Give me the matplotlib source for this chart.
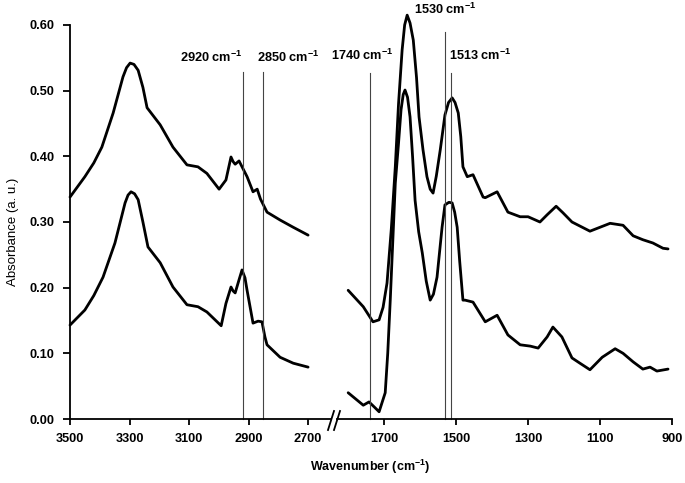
import numpy as np
import matplotlib
matplotlib.use("Agg")
import matplotlib.pyplot as plt
from matplotlib.lines import Line2D

plt.rcParams['font.family'] = ['Liberation Sans', 'DejaVu Sans']
plt.rcParams['mathtext.fontset'] = 'custom'
plt.rcParams['mathtext.rm'] = 'Liberation Sans'
plt.rcParams['mathtext.bf'] = 'Liberation Sans:bold'
plt.rcParams['mathtext.default'] = 'bf'

# high wavenumber region (cm-1)
wn_hi = [3500, 3450, 3420, 3393, 3355, 3322, 3310, 3298, 3285, 3271, 3255, 3241, 3197, 3154, 3107,
         3070, 3040, 2999, 2976, 2959, 2952, 2945, 2932, 2905, 2885, 2871, 2860, 2838, 2794, 2750, 2700]
upper_hi = [0.338, 0.369, 0.390, 0.414, 0.466, 0.521, 0.535, 0.542, 0.540, 0.531, 0.505, 0.474, 0.448,
            0.414, 0.387, 0.384, 0.374, 0.350, 0.364, 0.399, 0.392, 0.388, 0.393, 0.369, 0.346, 0.350,
            0.335, 0.315, 0.303, 0.292, 0.280]

wn_hi2 = [3500, 3450, 3420, 3389, 3349, 3315, 3305, 3295, 3283, 3271, 3255, 3238, 3197, 3154, 3107,
          3070, 3040, 2992, 2976, 2959, 2952, 2945, 2932, 2922, 2912, 2905, 2885, 2868, 2855, 2845,
          2838, 2794, 2750, 2700]
lower_hi = [0.143, 0.166, 0.188, 0.216, 0.268, 0.329, 0.341, 0.346, 0.343, 0.334, 0.300, 0.262, 0.238,
            0.201, 0.174, 0.171, 0.163, 0.142, 0.176, 0.201, 0.195, 0.192, 0.212, 0.227, 0.215, 0.196,
            0.146, 0.149, 0.148, 0.125, 0.113, 0.094, 0.085, 0.079]

# fingerprint region (cm-1)
wn_lo = [1800, 1758, 1731, 1714, 1703, 1692, 1680, 1669, 1660, 1650, 1643, 1636, 1628, 1619, 1610,
         1603, 1592, 1581, 1572, 1564, 1555, 1544, 1531, 1521, 1511, 1503, 1494, 1487, 1481, 1469,
         1453, 1425, 1419, 1386, 1356, 1322, 1300, 1267, 1247, 1222, 1203, 1178, 1128, 1100, 1072,
         1036, 1008, 981, 953, 925, 911]
upper_lo = [0.196, 0.171, 0.148, 0.151, 0.170, 0.207, 0.290, 0.384, 0.480, 0.562, 0.600, 0.615, 0.603,
            0.577, 0.520, 0.460, 0.410, 0.369, 0.350, 0.344, 0.370, 0.410, 0.463, 0.482, 0.489, 0.482,
            0.466, 0.430, 0.384, 0.369, 0.372, 0.338, 0.337, 0.346, 0.315, 0.308, 0.308, 0.300, 0.311,
            0.324, 0.314, 0.300, 0.286, 0.292, 0.298, 0.295, 0.279, 0.273, 0.268, 0.260, 0.259]

wn_lo2 = [1800, 1758, 1742, 1725, 1714, 1697, 1690, 1683, 1676, 1669, 1660, 1653, 1647, 1642, 1635,
          1628, 1621, 1614, 1604, 1594, 1583, 1572, 1563, 1553, 1539, 1531, 1520, 1511, 1504, 1497,
          1490, 1481, 1475, 1453, 1419, 1386, 1356, 1322, 1294, 1272, 1247, 1231, 1206, 1178, 1156,
          1128, 1094, 1058, 1036, 1008, 981, 961, 942, 911]
lower_lo = [0.040, 0.021, 0.026, 0.017, 0.011, 0.040, 0.100, 0.181, 0.270, 0.359, 0.420, 0.471, 0.494,
            0.501, 0.490, 0.460, 0.400, 0.333, 0.285, 0.253, 0.210, 0.181, 0.190, 0.216, 0.292, 0.326,
            0.330, 0.329, 0.315, 0.292, 0.240, 0.181, 0.181, 0.178, 0.148, 0.158, 0.128, 0.113, 0.111,
            0.108, 0.125, 0.140, 0.125, 0.093, 0.085, 0.075, 0.094, 0.107, 0.100, 0.087, 0.076, 0.079,
            0.073, 0.076]

# marker lines: position, top of line, label, label x, label y
marks_hi = [(2920, 0.528, '2920 cm$^{-1}$', 3026, 0.550),
            (2850, 0.528, '2850 cm$^{-1}$', 2767, 0.550)]
marks_lo = [(1740, 0.527, '1740 cm$^{-1}$', 1761, 0.554),
            (1530, 0.589, '1530 cm$^{-1}$', 1530, 0.623),
            (1513, 0.527, '1513 cm$^{-1}$', 1433, 0.554)]

yticks = [0.0, 0.1, 0.2, 0.3, 0.4, 0.5, 0.6]
xticks_hi = [3500, 3300, 3100, 2900, 2700]
xticks_lo = [1700, 1500, 1300, 1100, 900]

W, H = 685, 483
fig = plt.figure(figsize=(W / 100, H / 100), dpi=100)
ax1 = fig.add_axes([70 / W, 1 - 419 / H, (331 - 70) / W, (419 - 25) / H])
ax2 = fig.add_axes([337 / W, 1 - 419 / H, (672 - 337) / W, (419 - 25) / H])

style = dict(color='black', lw=2, solid_joinstyle='round', solid_capstyle='round', clip_on=False)
ax1.plot(wn_hi, upper_hi, **style)
ax1.plot(wn_hi2, lower_hi, **style)
ax2.plot(wn_lo, upper_lo, **style)
ax2.plot(wn_lo2, lower_lo, **style)

for ax, marks in [(ax1, marks_hi), (ax2, marks_lo)]:
    for x, top, lab, tx, ty in marks:
        ax.plot([x, x], [0, top], color='#444444', lw=0.8, clip_on=False)
        ax.text(tx, ty, lab, ha='center', va='center', fontsize=9.2,
                fontweight='bold', clip_on=False)

ax1.set_xlim(3500, 2623)
ax2.set_xlim(1831, 900)
for ax in (ax1, ax2):
    ax.set_ylim(0, 0.6)
    ax.spines['top'].set_visible(False)
    ax.spines['right'].set_visible(False)
    ax.spines['bottom'].set_linewidth(1.3)
    ax.tick_params(axis='x', direction='out', length=4, width=1.3, pad=6, labelsize=9.2)

ax1.set_xticks(xticks_hi)
ax1.set_xticklabels([str(v) for v in xticks_hi], fontweight='bold')
ax2.set_xticks(xticks_lo)
ax2.set_xticklabels([str(v) for v in xticks_lo], fontweight='bold')

ax1.spines['left'].set_linewidth(1.3)
ax1.set_yticks(yticks)
ax1.set_yticklabels(['%.2f' % v for v in yticks], fontweight='bold')
ax1.tick_params(axis='y', direction='out', length=5, width=1.3, pad=6, labelsize=9.2)

ax2.spines['left'].set_visible(False)
ax2.set_yticks([])

# axis break marks
fig.add_artist(Line2D([328 / W, 334 / W], [1 - 430 / H, 1 - 411 / H], color='black', lw=1.3))
fig.add_artist(Line2D([334 / W, 340 / W], [1 - 430 / H, 1 - 411 / H], color='black', lw=1.3))

fig.text(370 / W, 1 - 467 / H, 'Wavenumber (cm$^{-1}$)', ha='center', va='center',
         fontsize=9, fontweight='bold')
fig.text(13 / W, 1 - 232 / H, 'Absorbance (a. u.)', ha='center', va='center',
         rotation=90, fontsize=9.5)

fig.savefig('out.png', dpi=100)
